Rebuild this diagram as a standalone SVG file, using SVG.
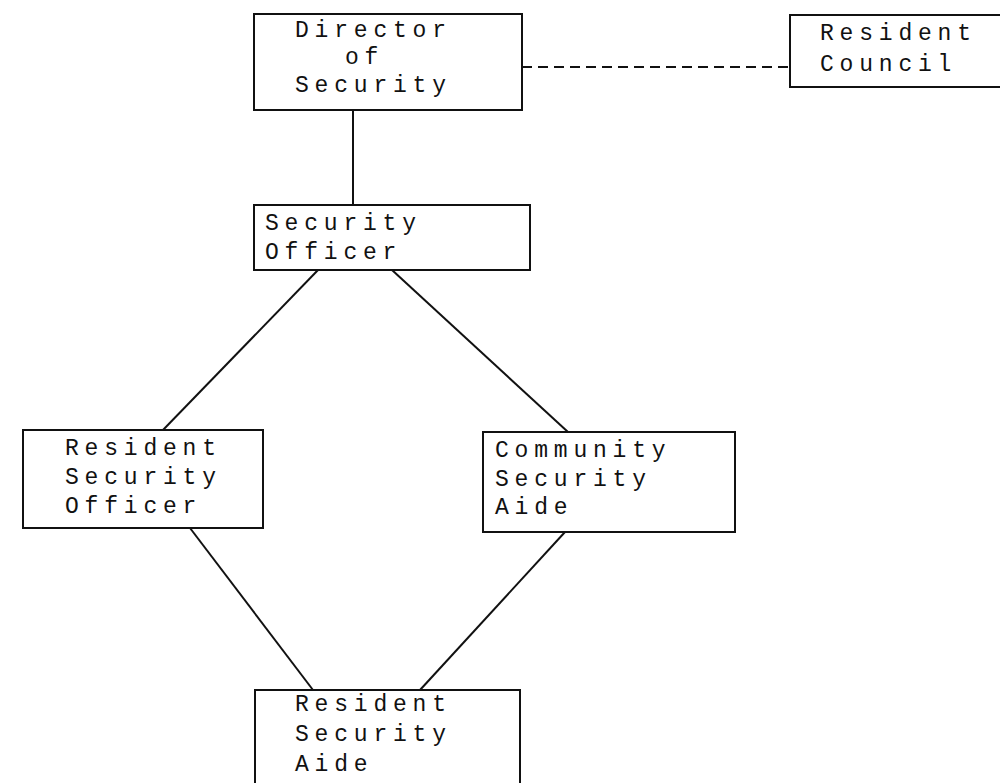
<svg xmlns="http://www.w3.org/2000/svg" width="1000" height="783" viewBox="0 0 1000 783">
  <style>
    .box { fill: #fff; stroke: #111; stroke-width: 2; }
    .lbl { font-family: "Liberation Mono", "Courier New", monospace; font-size: 23px; letter-spacing: 5.8px; fill: #111; }
    .link { stroke: #111; stroke-width: 2; fill: none; }
    .dash { stroke-dasharray: 10 6; }
  </style>
  <rect width="1000" height="783" fill="#fff"/>

  <g id="connectors">
    <line class="link dash" x1="522" y1="67" x2="790" y2="67"/>
    <line class="link" x1="353" y1="110" x2="353" y2="205"/>
    <line class="link" x1="318" y1="270" x2="163" y2="430"/>
    <line class="link" x1="392" y1="270" x2="568" y2="432"/>
    <line class="link" x1="190" y1="528" x2="313" y2="690"/>
    <line class="link" x1="565" y1="532" x2="420" y2="690"/>
  </g>

  <g id="director">
    <rect class="box" x="254" y="14" width="268" height="96"/>
    <text class="lbl" x="295" y="37">Director</text>
    <text class="lbl" x="345" y="64">of</text>
    <text class="lbl" x="295" y="92">Security</text>
  </g>

  <g id="resident-council">
    <rect class="box" x="790" y="15" width="220" height="72"/>
    <text class="lbl" x="820" y="40">Resident</text>
    <text class="lbl" x="820" y="71">Council</text>
  </g>

  <g id="security-officer">
    <rect class="box" x="254" y="205" width="276" height="65"/>
    <text class="lbl" x="265" y="230">Security</text>
    <text class="lbl" x="265" y="259">Officer</text>
  </g>

  <g id="resident-security-officer">
    <rect class="box" x="23" y="430" width="240" height="98"/>
    <text class="lbl" x="65" y="455">Resident</text>
    <text class="lbl" x="65" y="484">Security</text>
    <text class="lbl" x="65" y="513">Officer</text>
  </g>

  <g id="community-security-aide">
    <rect class="box" x="483" y="432" width="252" height="100"/>
    <text class="lbl" x="495" y="457">Community</text>
    <text class="lbl" x="495" y="486">Security</text>
    <text class="lbl" x="495" y="514">Aide</text>
  </g>

  <g id="resident-security-aide">
    <rect class="box" x="255" y="690" width="265" height="110"/>
    <text class="lbl" x="295" y="711">Resident</text>
    <text class="lbl" x="295" y="741">Security</text>
    <text class="lbl" x="295" y="771">Aide</text>
  </g>
</svg>
